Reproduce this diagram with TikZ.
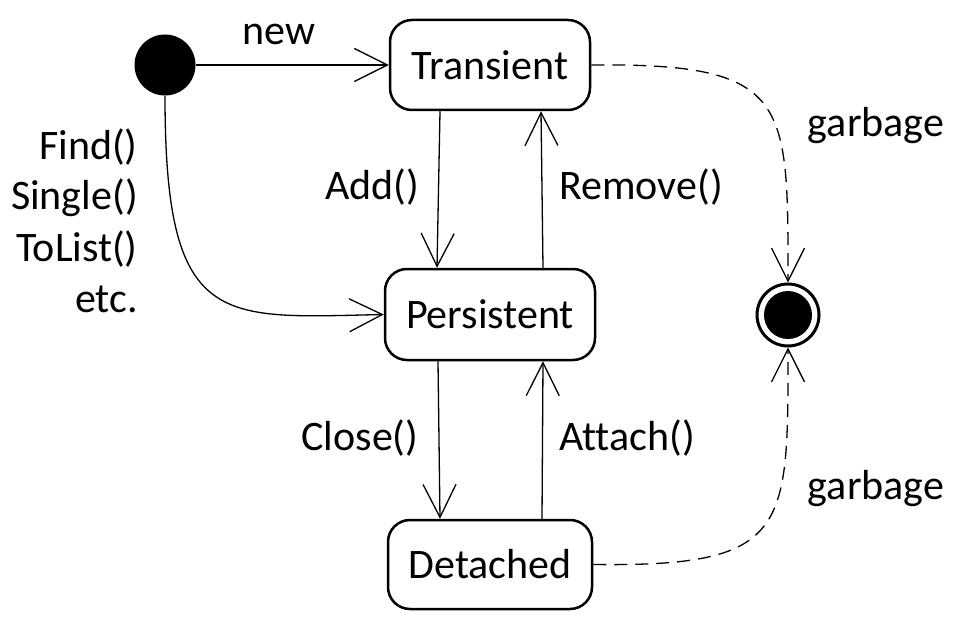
\documentclass[tikz,border=0pt]{standalone}
\usepackage{fontspec}
\setmainfont{Carlito}[Ligatures=NoCommon]
\usetikzlibrary{arrows.meta}
\begin{document}
\begin{tikzpicture}[x=1pt,y=-1pt,
  state/.style={draw, line width=2.5pt, rounded corners=22pt, inner sep=0pt},
  conn/.style={line width=1.3pt, -{Straight Barb[length=33pt,width=33pt]}},
  gconn/.style={conn, dash pattern=on 13pt off 8pt},
  lbl/.style={inner sep=0pt, anchor=base},
  every node/.style={font=\fontsize{42}{50}\selectfont}]
\useasboundingbox (0,0) rectangle (957,620);
\node[circle, fill, minimum size=61pt, inner sep=0pt] (init) at (165,65) {};
\node[state, minimum width=200pt, minimum height=90pt] (tr) at (490,65) {Transient};
\node[state, minimum width=210pt, minimum height=91pt] (pe) at (490,314.5) {Persistent};
\node[state, minimum width=204pt, minimum height=89pt] (de) at (490,564.5) {Detached};
\node[circle, draw, line width=3pt, fill=white, minimum size=62pt, inner sep=0pt] (fin) at (788,315) {};
\fill (fin.center) circle (24pt);

\draw[conn] (init.east) -- (tr.west);
\draw[conn] (init.south) .. controls (165,330) and (220,318) .. (pe.west);
\draw[conn] ([xshift=-50pt]tr.south) -- ([xshift=-53pt]pe.north);
\draw[conn] ([xshift=53pt]pe.north) -- ([xshift=51pt]tr.south);
\draw[conn] ([xshift=-52pt]pe.south) -- ([xshift=-50pt]de.north);
\draw[conn] ([xshift=52pt]de.north) -- ([xshift=53pt]pe.south);
\draw[gconn] (tr.east) .. controls (790,63) and (788,100) .. (fin.north);
\draw[gconn] (de.east) .. controls (790,567) and (788,530) .. (fin.south);

\node[lbl] (lnew) at (279,45) {new};
\node[lbl, anchor=base east] (lf1) at (138,160) {Find()};
\node[lbl, anchor=base east] (lf2) at (138,210) {Single()};
\node[lbl, anchor=base east] (lf3) at (138,261) {ToList()};
\node[lbl, anchor=base east] (lf4) at (138,312) {etc.};
\node[lbl] (ladd) at (372,200) {Add()};
\node[lbl] (lrem) at (641,200) {Remove()};
\node[lbl] (lclo) at (360,450) {Close()};
\node[lbl] (latt) at (627,450) {Attach()};
\node[lbl] (lg1) at (876,137) {garbage};
\node[lbl] (lg2) at (876,499) {garbage};
\end{tikzpicture}
\end{document}
